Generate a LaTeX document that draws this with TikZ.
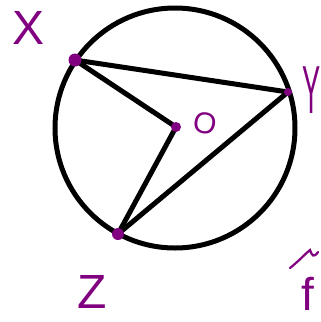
\documentclass[tikz,border=0pt]{standalone}
\usepackage{fontspec}
\setmainfont{Liberation Sans}
\definecolor{pen}{RGB}{128,0,128}
\begin{document}
\begin{tikzpicture}[x=1pt,y=-1pt,
  seg/.style={line width=5pt,line cap=round,black},
  vdot/.style={circle,fill=pen,inner sep=0pt},
  lab/.style={text=pen,inner sep=0pt,anchor=center}]
\useasboundingbox (0,0) rectangle (321,322);
\draw[line width=5pt] (175,128) circle[radius=120];
\coordinate (X) at (75,60);
\coordinate (Y) at (288,92);
\coordinate (O) at (176,127);
\coordinate (Z) at (118,234);
\draw[seg] (X) -- (Y);
\draw[seg] (X) -- (O);
\draw[seg] (O) -- (Z);
\draw[seg] (Z) -- (Y);
\node[vdot,minimum size=13pt] (dX) at (X) {};
\node[vdot,minimum size=8pt] (dY) at (Y) {};
\node[vdot,minimum size=10pt] (dO) at (O) {};
\node[vdot,minimum size=12pt] (dZ) at (Z) {};
\node[lab,font=\fontsize{48}{48}\selectfont] (lX) at (29,28) {X};
\node[lab,font=\fontsize{30}{30}\selectfont,rotate=-10] (lO) at (205,123) {O};
\node[lab,font=\fontsize{68}{68}\selectfont] (lY) at (312,90) {\scalebox{0.4}[1]{Y}};
\node[lab,font=\fontsize{48}{48}\selectfont] (lZ) at (92,292) {Z};
\node[lab,font=\fontsize{46}{46}\selectfont] (lf) at (308,294) {f};
\draw[pen,line width=2.2pt,line cap=round] (290,268) .. controls (300,260) and (305,254) .. (310,250) .. controls (312,256) and (314,258) .. (318,252);
\end{tikzpicture}
\end{document}
